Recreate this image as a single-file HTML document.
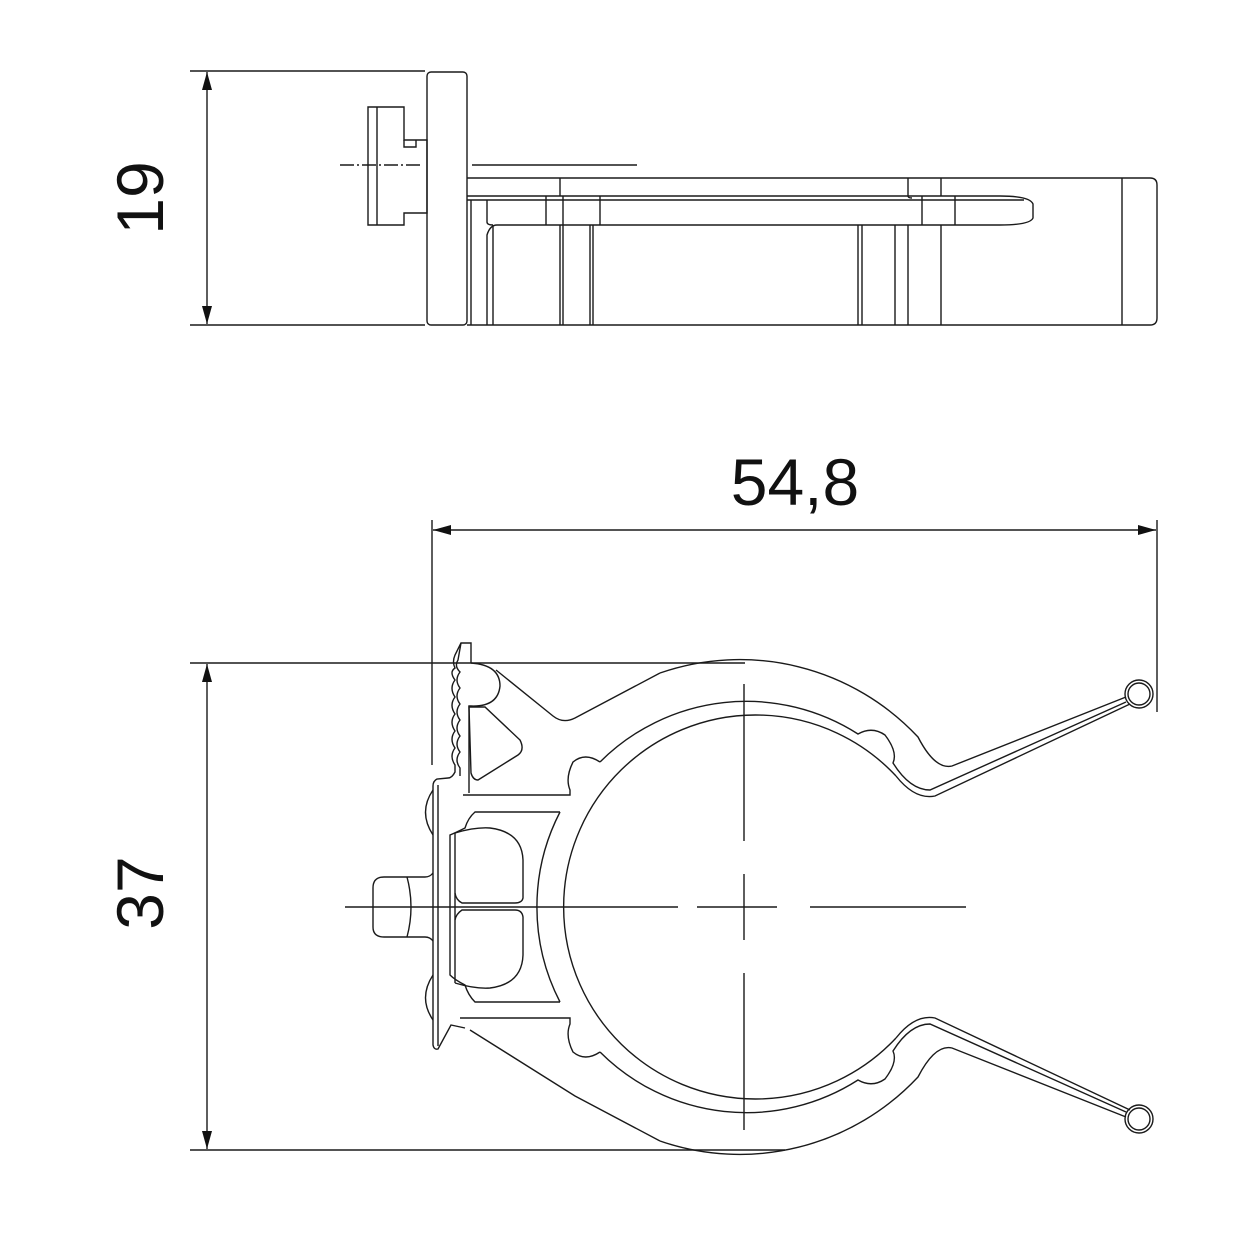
<!DOCTYPE html>
<html><head><style>html,body{margin:0;padding:0;background:#fff}svg{display:block}</style></head>
<body>
<svg width="1250" height="1250" viewBox="0 0 1250 1250" xmlns="http://www.w3.org/2000/svg">
<defs>
<marker id="a" viewBox="0 0 20 10" refX="18" refY="5" markerWidth="20" markerHeight="10" markerUnits="userSpaceOnUse" orient="auto-start-reverse"><path d="M18,5 L0,0 L0,10 z" fill="#111"/></marker>
</defs>
<g fill="none" stroke="#1a1a1a" stroke-width="1.4" font-family="Liberation Sans, sans-serif">
<!-- ===== TOP VIEW ===== -->
<line x1="190" y1="71" x2="425" y2="71"/>
<line x1="190" y1="325" x2="425" y2="325"/>
<line x1="207" y1="72" x2="207" y2="324" marker-start="url(#a)" marker-end="url(#a)"/>
<text x="0" y="0" font-size="66" fill="#111" stroke="none" text-anchor="middle" transform="translate(163,198) rotate(-90)">19</text>
<rect x="427" y="72" width="40" height="253" rx="4"/>
<path d="M368,107 H404 V140 H427 V213 H404 V225 H368 Z"/>
<line x1="377" y1="107" x2="377" y2="225"/>
<path d="M404,140 V147 H416 V140"/>
<line x1="340" y1="165" x2="420" y2="165" stroke-dasharray="14,3,2,3"/>
<line x1="472" y1="165" x2="637" y2="165"/>
<path d="M467,178 H1150 Q1157,178 1157,185 V318 Q1157,325 1150,325 H467"/>
<path d="M560,178 V196 M908,178 V196 Q908,198 912,198 M941,178 V196"/>
<path d="M1122,178 V325"/>
<path d="M467,196 H1000 Q1030,196 1033,204 V218 Q1030,225 1000,225 H497 Q490,225 487,235 V325"/>
<path d="M467,200 H1024"/>
<path d="M487,200 V222 Q487,225 493,225"/>
<path d="M546,196 V225 M563,196 V225 M600,196 V225 M922,196 V225 M955,196 V225"/>
<path d="M471,200 V325 M493,225 V325 M560,225 V325 M563,225 V325 M590,225 V325 M593,225 V325 M858,225 V325 M862,225 V325 M895,225 V325 M908,225 V325 M941,225 V325"/>

<!-- ===== DIMENSIONS FRONT ===== -->
<line x1="432" y1="520" x2="432" y2="765"/>
<line x1="1157" y1="520" x2="1157" y2="712"/>
<line x1="433" y1="530" x2="1156" y2="530" marker-start="url(#a)" marker-end="url(#a)"/>
<text x="795" y="505" font-size="66" fill="#111" stroke="none" text-anchor="middle">54,8</text>
<line x1="190" y1="663" x2="745" y2="663"/>
<line x1="190" y1="1150" x2="785" y2="1150"/>
<line x1="207" y1="664" x2="207" y2="1149" marker-start="url(#a)" marker-end="url(#a)"/>
<text x="0" y="0" font-size="66" fill="#111" stroke="none" text-anchor="middle" transform="translate(163,893) rotate(-90)">37</text>

<!-- centerlines -->
<path d="M345,907 H678 M697,907 H777 M810,907 H966"/>
<path d="M744,684 V841 M744,874 V940 M744,973 V1130"/>

<!-- ===== FRONT VIEW ===== -->
<path d="M660,673 A244,244 0 0 1 918,737 Q935,770 952,766 L1126,697"/>
<path d="M660,1141 A244,244 0 0 0 918,1077 Q935,1044 952,1048 L1126,1117"/>
<path d="M660,673 L575,718 Q563,724 553,716 L496,670"/>
<path d="M660,1141 L575,1096 L470,1030"/>
<path d="M896,776 A192,192 0 1 0 896,1038"/>
<path d="M896,776 Q915,800 935,796 L1130,704"/>
<path d="M896,1038 Q915,1014 935,1018 L1130,1110"/>
<path d="M600,762 A207,207 0 0 1 858,734 Q872,726 885,735 Q898,752 893,763 Q910,790 930,790 L1126,702"/>
<path d="M600,1052 A207,207 0 0 0 858,1080 Q872,1088 885,1079 Q898,1062 893,1051 Q910,1024 930,1024 L1126,1112"/>
<path d="M600,762 Q585,752 573,762 Q565,778 570,790 L570,795 H463"/>
<path d="M600,1052 Q585,1062 573,1052 Q565,1036 570,1024 L570,1018 H460"/>
<path d="M560,812 A207,207 0 0 0 560,1002"/>
<path d="M560,812 H475 Q468,818 465,828 Q455,833 450,835 V975 Q455,980 465,985 Q468,995 475,1002 H560"/>
<path d="M455,833 Q475,827 490,828 Q522,832 523,860 V898 Q522,903 515,903 H462 Q456,900 455,893"/>
<path d="M455,983 Q475,989 490,988 Q522,984 523,955 V917 Q522,910 515,910 H462 Q456,914 455,920"/>
<line x1="455" y1="833" x2="455" y2="983"/>
<path d="M469,707 H485 L520,740 Q525,750 518,755 L478,780 Q473,780 471,773 Z"/>
<path d="M471,663 V643 H461 L455,655 Q452,662 455,668 Q449,672 455,680 Q449,688 455,697 Q449,705 455,714 Q449,722 455,731 Q449,739 455,748 Q449,756 455,765 L455,772 Q452,778 448,778 L437,779 Q433,781 433,786 V1045 Q434,1050 438,1049 L451,1025 L465,1028"/>
<path d="M461,643 L458,660 Q454,666 460,672 Q454,680 460,688 Q454,696 460,704 Q454,712 460,720 Q454,728 460,736 Q454,744 460,752 Q454,760 460,768 L460,776"/>
<path d="M438,785 V1046"/>
<path d="M471,663 Q500,665 500,686 Q498,707 471,706 L469,706 V793"/>
<path d="M433,790 Q418,812 433,835"/>
<path d="M433,975 Q418,998 433,1020"/>
<path d="M433,873 Q430,877 425,877 H384 Q373,877 373,888 V927 Q373,937 384,937 H425 Q430,937 433,941"/>
<path d="M407,877 Q415,907 407,937"/>
<circle cx="1139" cy="694" r="14"/>
<circle cx="1139" cy="694" r="11"/>
<circle cx="1139" cy="1119" r="14"/>
<circle cx="1139" cy="1119" r="11"/>
</g>
</svg>
</body></html>
